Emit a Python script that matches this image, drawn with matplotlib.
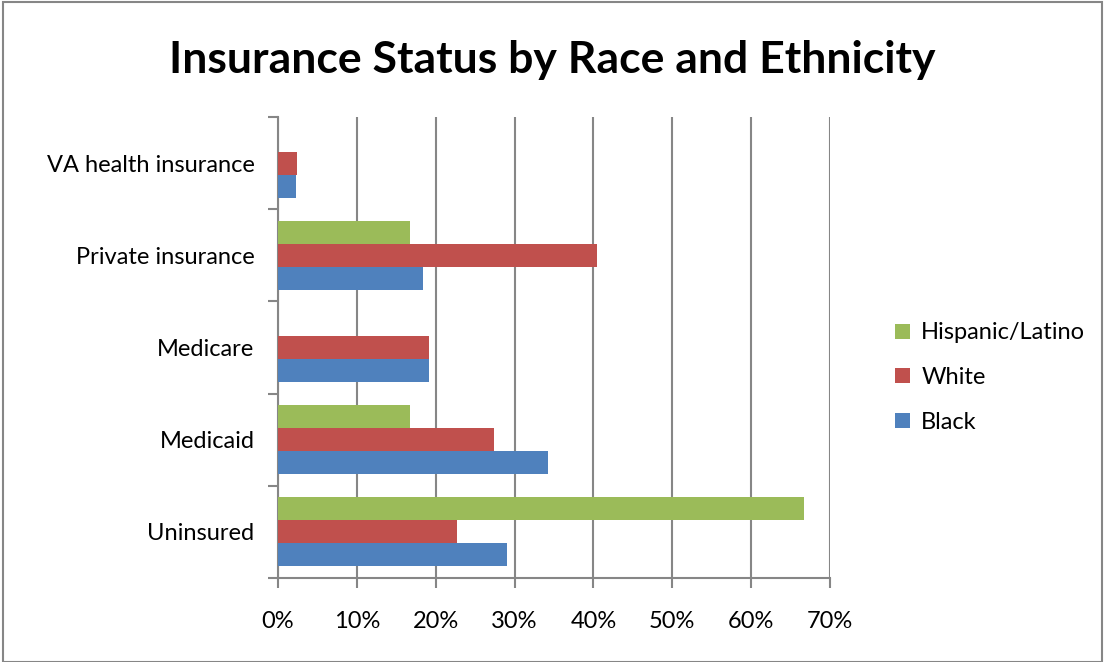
import matplotlib.pyplot as plt
import numpy as np
from matplotlib.patches import Rectangle
from matplotlib.ticker import PercentFormatter, FixedLocator

categories = ["Uninsured", "Medicaid", "Medicare", "Private insurance", "VA health insurance"]
black = [29.0, 34.2, 19.1, 18.4, 2.3]
white = [22.7, 27.4, 19.1, 40.5, 2.4]
hispanic = [66.7, 16.7, 0, 16.7, 0]
ticks = [0, 10, 20, 30, 40, 50, 60, 70]

plt.rcParams['font.family'] = ['Lato', 'DejaVu Sans']
grey = '#868686'

fig = plt.figure(figsize=(11.04, 6.62), dpi=100)
ax = fig.add_axes([0.2518, 0.1269, 0.5, 0.6964])

y = np.arange(len(categories))
h = 0.25
ax.barh(y - h, black, h, color='#4F81BD', label='Black', zorder=3)
ax.barh(y, white, h, color='#C0504D', label='White', zorder=3)
ax.barh(y + h, hispanic, h, color='#9BBB59', label='Hispanic/Latino', zorder=3)

ax.set_xlim(0, 70)
ax.set_ylim(-0.5, len(categories) - 0.5)
ax.xaxis.set_major_locator(FixedLocator(ticks))
ax.xaxis.set_major_formatter(PercentFormatter(decimals=0))
ax.grid(axis='x', color=grey, linewidth=1.5, zorder=0)

# category labels sit between boundary ticks
ax.set_yticks(y)
ax.set_yticklabels(categories)
ax.set_yticks(np.arange(-0.5, len(categories)), minor=True)
ax.tick_params(axis='y', which='major', length=0, pad=17, labelsize=17)
ax.tick_params(axis='y', which='minor', length=7, width=1.5, color=grey)
ax.tick_params(axis='x', length=7, width=1.5, color=grey, labelsize=17, pad=17)

for s in ['top', 'right']:
    ax.spines[s].set_visible(False)
for s in ['left', 'bottom']:
    ax.spines[s].set_color(grey)
    ax.spines[s].set_linewidth(1.5)

fig.suptitle("Insurance Status by Race and Ethnicity", fontsize=32, fontweight='bold',
             y=0.94)

handles, labels = ax.get_legend_handles_labels()
ax.legend(handles[::-1], labels[::-1], loc='center left', bbox_to_anchor=(1.08, 0.435),
          frameon=False, fontsize=17, handlelength=0.6, handleheight=0.6,
          labelspacing=1.0, handletextpad=0.5)

fig.patches.append(Rectangle((0.003, 0.0), 0.995, 0.997, transform=fig.transFigure,
                             fill=False, edgecolor=grey, linewidth=1.5))

fig.savefig("out.png", dpi=100)
